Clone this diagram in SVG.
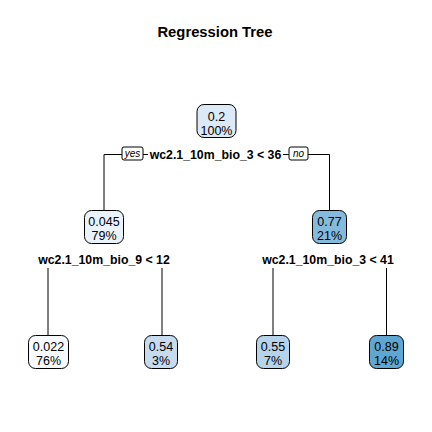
<svg xmlns="http://www.w3.org/2000/svg" width="432" height="432" viewBox="0 0 432 432">
<style>
text{font-family:"Liberation Sans",Arial,sans-serif;fill:#000}
.title{font-size:14.8px;font-weight:bold}
.split{font-size:12.3px;font-weight:bold}
.val{font-size:12.5px}
.yn{font-size:10px;font-style:italic}
.box{stroke:#000;stroke-width:1}
.ln{stroke:#000;stroke-width:1;fill:none}
</style>
<rect width="432" height="432" fill="#fff"/>
<text class="title" x="215" y="37" text-anchor="middle">Regression Tree</text>
<g id="connectors">
<path class="ln" d="M104,210V154.5H122M143,154.5H148M283,154.5H289M308,154.5H329.5V210"/>
<path class="ln" d="M48,268V335M162,268V335M273,268V335M386.5,268V335"/>
<rect x="122" y="147" width="21" height="13" rx="2" fill="#fff" class="box"/>
<text class="yn" x="132.5" y="157" text-anchor="middle">yes</text>
<rect x="289" y="147" width="19" height="13" rx="2" fill="#fff" class="box"/>
<text class="yn" x="298.5" y="157" text-anchor="middle">no</text>
</g>
<g id="root">
<rect class="box" x="197" y="104.5" width="39" height="33" rx="7" fill="#DCE9F6"/>
<text class="val" x="216.5" y="121" text-anchor="middle">0.2</text>
<text class="val" x="216.5" y="134.5" text-anchor="middle">100%</text>
<text class="split" x="215.5" y="158.5" text-anchor="middle">wc2.1_10m_bio_3 &lt; 36</text>
</g>
<g id="n2">
<rect class="box" x="84.5" y="210.5" width="39" height="33" rx="7" fill="#EAF2FB"/>
<text class="val" x="104" y="226" text-anchor="middle">0.045</text>
<text class="val" x="104" y="240" text-anchor="middle">79%</text>
<text class="split" x="104" y="263.5" text-anchor="middle">wc2.1_10m_bio_9 &lt; 12</text>
</g>
<g id="n3">
<rect class="box" x="312.5" y="210.5" width="34" height="33" rx="7" fill="#84BBDD"/>
<text class="val" x="329.5" y="226" text-anchor="middle">0.77</text>
<text class="val" x="329.5" y="240" text-anchor="middle">21%</text>
<text class="split" x="328" y="263.5" text-anchor="middle">wc2.1_10m_bio_3 &lt; 41</text>
</g>
<g id="leaf1">
<rect class="box" x="28.5" y="335.5" width="40" height="33" rx="7" fill="#F7FBFF"/>
<text class="val" x="48.5" y="351" text-anchor="middle">0.022</text>
<text class="val" x="48.5" y="365" text-anchor="middle">76%</text>
</g>
<g id="leaf2">
<rect class="box" x="144.5" y="335.5" width="33" height="33" rx="7" fill="#C6DBEF"/>
<text class="val" x="161" y="351" text-anchor="middle">0.54</text>
<text class="val" x="161" y="365" text-anchor="middle">3%</text>
</g>
<g id="leaf3">
<rect class="box" x="256.5" y="335.5" width="33" height="33" rx="7" fill="#B5D3EA"/>
<text class="val" x="273" y="351" text-anchor="middle">0.55</text>
<text class="val" x="273" y="365" text-anchor="middle">7%</text>
</g>
<g id="leaf4">
<rect class="box" x="369.5" y="335.5" width="34" height="33" rx="7" fill="#5FA6D2"/>
<text class="val" x="386.5" y="351" text-anchor="middle">0.89</text>
<text class="val" x="386.5" y="365" text-anchor="middle">14%</text>
</g>
</svg>
